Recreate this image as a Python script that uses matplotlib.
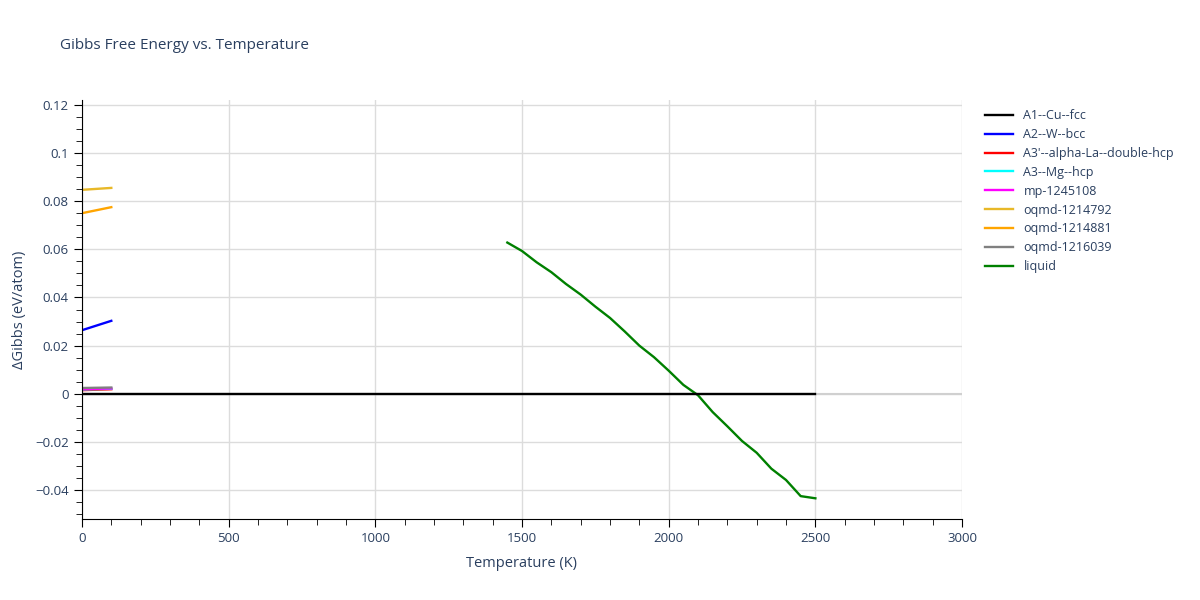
import numpy as np
import matplotlib
matplotlib.use("Agg")
from matplotlib import pyplot as plt
from matplotlib.ticker import MultipleLocator, FuncFormatter

# low-temperature phases (0-100 K)
t_low = [0, 100]
fcc = [0.0, 0.0]
bcc = [0.0264, 0.0303]
la_dhcp = [0.0015, 0.0019]
mg_hcp = [0.0018, 0.0021]
mp_1245108 = [0.0019, 0.0022]
oqmd_1214792 = [0.0847, 0.0855]
oqmd_1214881 = [0.0750, 0.0775]
oqmd_1216039 = [0.0024, 0.0026]

# fcc reference runs to 2500 K
t_fcc = [0, 2500]
fcc_long = [0.0, 0.0]

# liquid
t_liq = [1450, 1500, 1550, 1600, 1650, 1700, 1750, 1800, 1850, 1900, 1950,
         2000, 2050, 2100, 2150, 2200, 2250, 2300, 2350, 2400, 2450, 2500]
liquid = [0.0628, 0.0593, 0.0546, 0.0505, 0.0456, 0.0412, 0.0362, 0.0315,
          0.0259, 0.0200, 0.0152, 0.0096, 0.0037, -0.0006, -0.0076, -0.0135,
          -0.0196, -0.0245, -0.0311, -0.0358, -0.0425, -0.0434]

txt = "#2a3f5f"
plt.rcParams['font.family'] = ['Open Sans', 'DejaVu Sans']

fig = plt.figure(figsize=(12, 6), dpi=100)
ax = fig.add_axes([0.0683, 0.135, 0.7334, 0.6983])

lw = 1.7
ax.axhline(0, color="#d0d0d0", lw=1.5, zorder=1)
ax.plot(t_fcc, fcc_long, color="black", lw=lw, label="A1--Cu--fcc", zorder=5)
ax.plot(t_low, bcc, color="blue", lw=lw, label="A2--W--bcc")
ax.plot(t_low, la_dhcp, color="red", lw=lw, label="A3'--alpha-La--double-hcp")
ax.plot(t_low, mg_hcp, color="cyan", lw=lw, label="A3--Mg--hcp")
ax.plot(t_low, mp_1245108, color="magenta", lw=lw, label="mp-1245108")
ax.plot(t_low, oqmd_1214792, color="#E8B828", lw=lw, label="oqmd-1214792")
ax.plot(t_low, oqmd_1214881, color="orange", lw=lw, label="oqmd-1214881")
ax.plot(t_low, oqmd_1216039, color="grey", lw=lw, label="oqmd-1216039", zorder=2)
ax.plot(t_liq, liquid, color="green", lw=lw, label="liquid")

ax.set_xlim(0, 3000)
ax.set_ylim(-0.052, 0.122)
ax.xaxis.set_major_locator(MultipleLocator(500))
ax.xaxis.set_minor_locator(MultipleLocator(100))
ax.yaxis.set_major_locator(MultipleLocator(0.02))
ax.yaxis.set_minor_locator(MultipleLocator(0.005))

def fmt(v, pos):
    v = round(v, 4)
    if v == 0:
        return "0"
    s = ("%g" % abs(v))
    return ("\u2212" + s) if v < 0 else s
ax.yaxis.set_major_formatter(FuncFormatter(fmt))

ax.grid(True, which="major", color="#dcdcdc", lw=1)
ax.set_axisbelow(True)
for s in ["top", "right"]:
    ax.spines[s].set_visible(False)
ax.spines["left"].set_color("black")
ax.spines["bottom"].set_color("black")
ax.tick_params(which="both", direction="out", color="black", labelcolor=txt,
               labelsize=9.5)
ax.tick_params(which="major", length=6)
ax.tick_params(which="minor", length=4)

ax.set_xlabel("Temperature (K)", color=txt, fontsize=10.5, labelpad=8)
ax.set_ylabel("\u0394Gibbs (eV/atom)", color=txt, fontsize=10.5, labelpad=6)
fig.text(0.05, 0.924, "Gibbs Free Energy vs. Temperature", color=txt,
         fontsize=11, va="center")

leg = ax.legend(loc="upper left", bbox_to_anchor=(1.02, 0.99), frameon=False,
                fontsize=9, labelcolor=txt, handlelength=2.3, borderaxespad=0,
                labelspacing=0.47)

fig.savefig("out.png", dpi=100)
